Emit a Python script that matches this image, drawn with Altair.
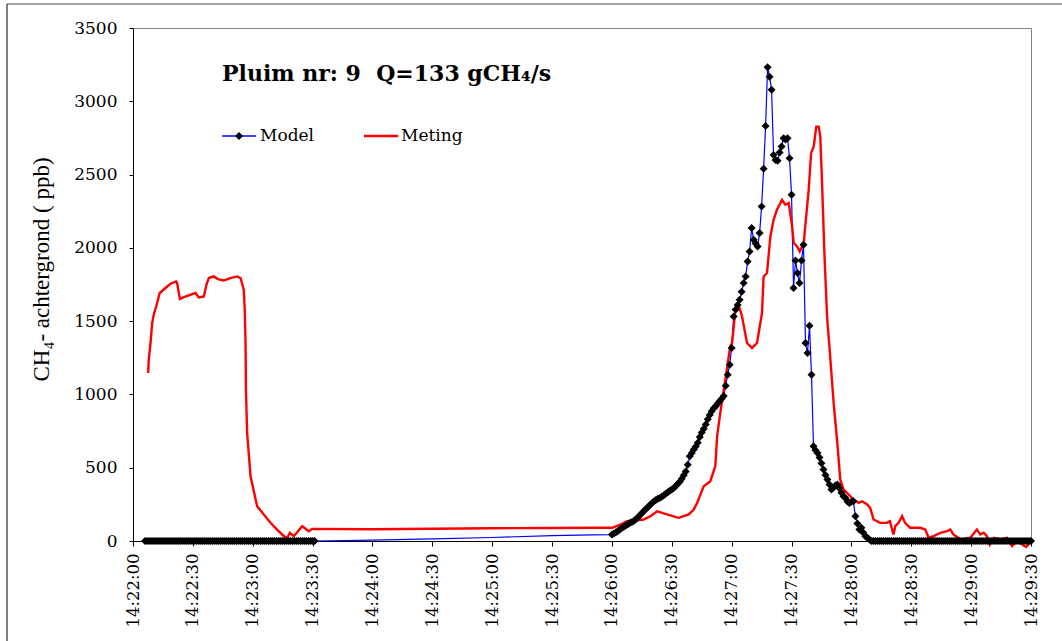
import altair as alt
import pandas as pd

# ---- data (time in seconds after 14:22:00) ----
# Model: one sample per second where markers are shown
model_start_t = list(range(6, 92))
model_start_v = [0, 0, 0, 0, 0, 0, 0, 0, 0, 0, 0, 0, 0, 0, 0, 0, 0, 0, 0, 0,
                 0, 0, 0, 0, 0, 0, 0, 0, 0, 0, 0, 0, 0, 0, 0, 0, 0, 0, 0, 0,
                 0, 0, 0, 0, 0, 0, 0, 0, 0, 0, 0, 0, 0, 0, 0, 0, 0, 0, 0, 0,
                 0, 0, 0, 0, 0, 0, 0, 0, 0, 0, 0, 0, 0, 0, 0, 0, 0, 0, 0, 0,
                 0, 0, 0, 0, 0, 0]
model_mid_t = [120, 150, 180, 210, 230]
model_mid_v = [6, 14, 24, 36, 42]
model_peak_t = list(range(240, 370))
model_peak_v = [44, 52, 60, 68, 78, 88, 98, 106, 115, 122,
                130, 136, 148, 160, 175, 190, 205, 218, 230, 245,
                258, 270, 280, 288, 294, 302, 312, 322, 332, 342,
                351, 362, 375, 390, 405, 425, 448, 475, 520, 578,
                600, 625, 645, 670, 710, 740, 765, 795, 830, 860,
                885, 905, 920, 938, 955, 970, 990, 1060, 1135, 1203,
                1317, 1532, 1580, 1610, 1646, 1700, 1760, 1805, 1907, 1975,
                2135, 2055, 2030, 2009, 2101, 2282, 2539, 2832, 3232, 3168,
                3078, 2634, 2600, 2594, 2650, 2691, 2748, 2740, 2748, 2612,
                2362, 1726, 1914, 1828, 1760, 1914, 2021, 1351, 1283, 1469,
                1135, 646, 620, 601, 570, 530, 487, 450, 419, 385,
                351, 365, 378, 385, 360, 330, 305, 294, 270, 260,
                268, 271, 169, 120, 78, 90, 56, 33, 22, 10]
model_end_t = list(range(370, 451))
model_end_v = [0, 0, 0, 0, 0, 0, 0, 0, 0, 0, 0, 0, 0, 0, 0, 0, 0, 0, 0, 0,
               0, 0, 0, 0, 0, 0, 0, 0, 0, 0, 0, 0, 0, 0, 0, 0, 0, 0, 0, 0,
               0, 0, 0, 0, 0, 0, 0, 0, 0, 0, 0, 0, 0, 0, 0, 0, 0, 0, 0, 0,
               0, 0, 0, 0, 0, 0, 0, 0, 0, 0, 0, 0, 0, 0, 0, 0, 0, 0, 0, 0,
               0]

# Meting (measurement)
meting_t = [7.6, 7.9, 8.8, 9.6, 10.4, 12.1, 13.4, 16.3, 18.8, 21.6,
            22.1, 23.5, 25.5, 29.7, 31.3, 33.0, 35.5, 36.8, 38.0, 40.5,
            42.5, 45.5, 48.8, 52.2, 53.9, 55.5, 56.0, 56.4, 56.6, 57.2,
            58.9, 62.2, 68.9, 72.2, 75.6, 77.3, 78.6, 80.6, 84.8, 88.1,
            89.8, 120, 150, 180, 210, 234.2, 240.1, 244.2, 247.6, 255.9,
            259.3, 262.6, 265.1, 267.6, 273.4, 276.0, 278.5, 281.0, 282.7, 286.0,
            289.3, 291.8, 292.7, 294.3, 296.8, 299.3, 300.2, 301.9, 302.7, 304.0,
            305.2, 307.7, 310.2, 312.7, 315.2, 316.0, 317.7, 319.4, 321.0, 322.7,
            325.2, 326.9, 328.6, 330.3, 331.1, 332.8, 334.1, 336.1, 337.8, 338.6,
            339.8, 341.1, 342.4, 343.6, 344.4, 345.3, 346.4, 347.8, 349.1, 351.1,
            353.1, 354.4, 356.1, 356.9, 361.1, 363.7, 365.4, 367.9, 369.4, 371.1,
            374.4, 377.7, 379.3, 381.1, 382.0, 383.6, 385.4, 386.9, 389.4, 394.5,
            397.0, 398.7, 401.2, 404.6, 407.9, 409.6, 411.2, 414.6, 419.6, 422.9,
            424.6, 426.3, 427.9, 429.3, 431.3, 434.6, 438.0, 440.5, 443.0, 445.5,
            447.6, 449.4]
meting_v = [1146, 1237, 1351, 1487, 1544, 1624, 1692, 1726, 1755, 1771,
            1760, 1651, 1664, 1685, 1692, 1662, 1669, 1748, 1794, 1805,
            1787, 1778, 1794, 1805, 1794, 1714, 1578, 1351, 1033, 737,
            442, 237, 124, 78, 33, 22, 56, 33, 101, 67,
            83, 80, 84, 87, 89, 90, 90, 112, 135, 147,
            169, 203, 192, 181, 158, 169, 181, 215, 260, 374,
            408, 510, 714, 874, 1101, 1328, 1351, 1578, 1601, 1589,
            1532, 1351, 1317, 1351, 1555, 1805, 1828, 2078, 2191, 2260,
            2328, 2294, 2305, 2146, 2033, 2009, 1975, 2033, 2282, 2396,
            2646, 2691, 2827, 2827, 2759, 2442, 1987, 1532, 1305, 942,
            646, 420, 351, 340, 283, 260, 271, 249, 226, 147,
            124, 124, 135, 44, 101, 124, 169, 124, 90, 90,
            78, 22, 33, 56, 67, 78, 44, 10, 22, 78,
            44, 56, 33, -24, 22, 10, 22, -35, -1, -24,
            -40, -12]

x_ticks = list(range(0, 451, 30))
y_ticks = [0, 500, 1000, 1500, 2000, 2500, 3000, 3500]

title_text = "Pluim nr: 9\u00a0 Q=133 gCH\u2084/s"
y_title = "CH\u2084- achtergrond (\u00a0ppb)"
legend_names = ["Model", "Meting"]

model_df = pd.DataFrame({
    "t": model_start_t + model_mid_t + model_peak_t + model_end_t,
    "v": model_start_v + model_mid_v + model_peak_v + model_end_v,
})
meting_df = pd.DataFrame({"t": meting_t, "v": meting_v})

W, H = 898, 513
SERIF = "DejaVu Serif"

x_enc = alt.X(
    "t:Q",
    scale=alt.Scale(domain=[0, 450], nice=False, zero=False),
    axis=alt.Axis(
        values=x_ticks,
        labelExpr="'14:' + (22 + floor(datum.value / 60)) + ':' + "
                  "((datum.value % 60) < 10 ? '0' : '') + (datum.value % 60)",
        labelAngle=-90,
        labelFont=SERIF, labelFontSize=16.5, labelColor="black",
        labelPadding=7, tickSize=5, tickColor="black",
        domainColor="black", grid=False, title=None, labelOverlap=False,
        labelBound=False, labelFlush=False,
    ),
)
y_enc = alt.Y(
    "v:Q",
    scale=alt.Scale(domain=[0, 3500], nice=False),
    axis=alt.Axis(
        values=y_ticks, format="d", labelFont=SERIF, labelFontSize=17,
        labelColor="black", labelPadding=12, tickSize=4, tickColor="black",
        domainColor="black", grid=False, title=y_title,
        titleFont="Liberation Serif", titleFontSize=23,
        titleFontWeight="normal", titleColor="black",
        titleAngle=270, titleX=-92, titleY=241, titleAlign="center",
        titleBaseline="middle", labelFlush=False, labelOverlap=False,
    ),
)

blue_line = alt.Chart(model_df).mark_line(color="#0000FF", strokeWidth=1.2).encode(
    x=x_enc, y=y_enc, order="t:Q")
red_line = alt.Chart(meting_df).mark_line(color="#FF0000", strokeWidth=2.4).encode(
    x="t:Q", y="v:Q", order="t:Q")
markers = alt.Chart(model_df).transform_filter(
    "datum.t <= 91 || datum.t >= 240"
).mark_point(shape="diamond", filled=True, color="black", size=64, opacity=1).encode(
    x="t:Q", y="v:Q")

one = pd.DataFrame({"a": [0]})
title_mark = alt.Chart(one).mark_text(
    text=title_text, font=SERIF, fontSize=22, fontWeight="bold", color="black",
    align="left", baseline="alphabetic").encode(x=alt.value(89), y=alt.value(53))

leg_model_line = alt.Chart(one).mark_rule(color="#0000FF", strokeWidth=1.5).encode(
    x=alt.value(89), x2=alt.value(123), y=alt.value(108))
leg_model_pt = alt.Chart(one).mark_point(
    shape="diamond", filled=True, color="black", size=64, opacity=1).encode(
    x=alt.value(106), y=alt.value(108))
leg_model_txt = alt.Chart(one).mark_text(
    text=legend_names[0], font=SERIF, fontSize=17, color="black",
    align="left", baseline="middle").encode(x=alt.value(127), y=alt.value(108))
leg_meting_line = alt.Chart(one).mark_rule(color="#FF0000", strokeWidth=2.4).encode(
    x=alt.value(231), x2=alt.value(265), y=alt.value(108))
leg_meting_txt = alt.Chart(one).mark_text(
    text=legend_names[1], font=SERIF, fontSize=17, color="black",
    align="left", baseline="middle").encode(x=alt.value(268), y=alt.value(108))

border_left = alt.Chart(one).mark_rule(color="black", strokeWidth=1).encode(
    x=alt.value(-126), y=alt.value(-24), y2=alt.value(620))
border_top = alt.Chart(one).mark_rule(color="#444444", strokeWidth=1).encode(
    x=alt.value(-126), x2=alt.value(935), y=alt.value(-24))

chart = alt.layer(
    blue_line, red_line, markers,
    title_mark, leg_model_line, leg_model_pt, leg_model_txt,
    leg_meting_line, leg_meting_txt, border_left, border_top,
).properties(
    width=W, height=H,
    autosize=alt.AutoSizeParams(type="none"),
    padding={"left": 133, "top": 28, "right": 31, "bottom": 100},
    background="white",
).configure_view(stroke="#808080", strokeWidth=1)

chart.save("out.html", embed_options={"renderer": "svg", "actions": False})
